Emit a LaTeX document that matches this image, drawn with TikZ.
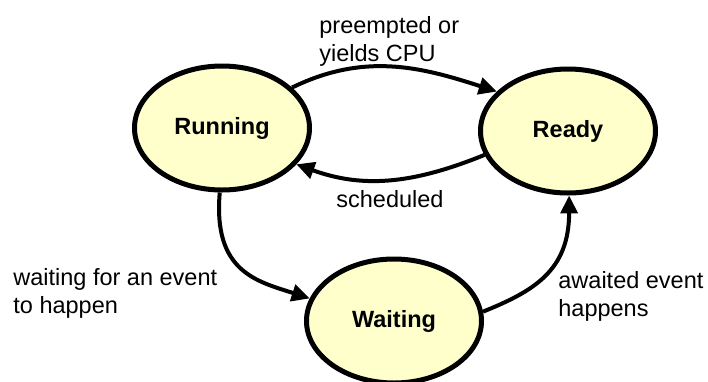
\documentclass[tikz,border=0pt]{standalone}
\usepackage{fontspec}
\setmainfont{Liberation Sans}
\usetikzlibrary{shapes.geometric,arrows.meta}

\tikzset{
  state/.style={ellipse, draw=black, line width=2.5pt, fill=statefill,
    minimum width=87.5pt, minimum height=62pt, inner sep=0pt,
    font=\fontsize{11.75pt}{14pt}\selectfont\bfseries},
  trans/.style={line width=2pt, -{Triangle[length=9pt,width=8.5pt]}},
  lbl/.style={inner sep=0pt, align=left,
    font=\fontsize{11.75pt}{14pt}\selectfont}
}
\definecolor{statefill}{HTML}{FFFFCC}

\begin{document}
% y axis points down, so polar offsets use mirrored angles
\begin{tikzpicture}[x=0.5pt, y=-0.5pt]
  \useasboundingbox (0,0) rectangle (708,381);

  % process states
  \node[state] (run)  at (222,128) {Running};
  \node[state] (rdy)  at (568,131) {Ready};
  \node[state] (wait) at (394,321) {Waiting};

  % transitions
  \draw[trans] (run.30)   to[out=26,in=162]  (rdy.151);
  \draw[trans] (rdy.196)  to[out=202,in=-20] (run.334);
  \draw[trans] (run.268)  .. controls +(95:80) and +(198:55) .. (wait.165);
  \draw[trans] (wait.6)   .. controls +(-22:55) and +(90:75) .. (rdy.271);

  % transition labels
  \node[lbl, anchor=north west] (lpre) at (319,16)  {preempted or\\yields CPU};
  \node[lbl, anchor=base west]  (lsch) at (336,207) {scheduled};
  \node[lbl, anchor=north west] (lwt)  at (13,268)  {waiting for an event\\to happen};
  \node[lbl, anchor=north west] (lawt) at (558,271) {awaited event\\happens};
\end{tikzpicture}
\end{document}
